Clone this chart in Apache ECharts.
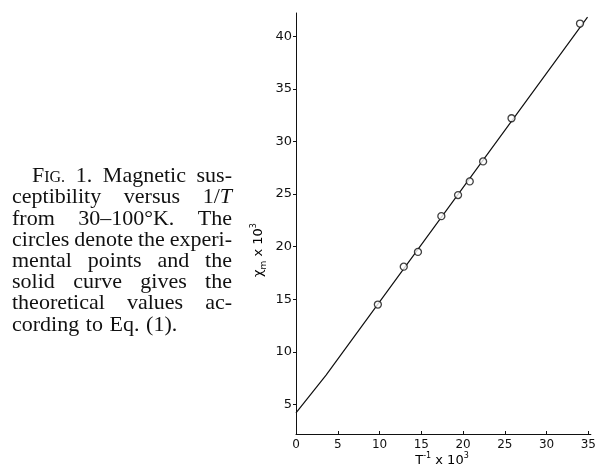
<!DOCTYPE html>
<html>
<head>
<meta charset="utf-8">
<script src="https://cdn.jsdelivr.net/npm/echarts@6/dist/echarts.min.js"></script>
<style>
html, body { margin: 0; padding: 0; background: #fff; }
#canvas { width: 599px; height: 470px; }
</style>
</head>
<body>
<div id="canvas"></div>
<script>
// measured points (circles) and the theoretical line
var pointX = [9.8, 12.9, 14.6, 17.4, 19.4, 20.8, 22.4, 25.8, 34.0];
var pointY = [14.5, 18.1, 19.5, 22.9, 24.9, 26.2, 28.1, 32.2, 41.2];
var curveX = [0, 3.6, 34.9];
var curveY = [4.2, 7.8, 41.8];

var xTicks = [0, 5, 10, 15, 20, 25, 30, 35];
var yTicks = [5, 10, 15, 20, 25, 30, 35, 40];

var captionLines = [
    'FIG. 1. Magnetic sus-',
    'ceptibility versus 1/T',
    'from 30\u2013100\u00b0K. The',
    'circles denote the experi-',
    'mental points and the',
    'solid curve gives the',
    'theoretical values ac-',
    'cording to Eq. (1).'
];

var fonts = {
    n: '22px "Liberation Serif"',
    sc: '16px "Liberation Serif"',
    it: 'italic 22px "Liberation Serif"'
};
var fontSize = { n: 22, sc: 16, it: 22 };

var mctx = document.createElement('canvas').getContext('2d');
function textWidth(txt, kind) {
    mctx.font = fonts[kind];
    return mctx.measureText(txt).width;
}
function wordParts(w) {
    if (w === 'FIG.') return [['F', 'n'], ['IG.', 'sc']];
    if (w === '1/T') return [['1/', 'n'], ['T', 'it']];
    return [[w, 'n']];
}

// justified caption, one text piece per word part
var captionGraphics = [];
captionLines.forEach(function (line, i) {
    var left = i === 0 ? 32 : 12;
    var right = 232;
    var base = 183 + i * 21.2;
    var words = line.split(' ');
    var parts = words.map(wordParts);
    var widths = parts.map(function (p) {
        return p.reduce(function (s, seg) { return s + textWidth(seg[0], seg[1]); }, 0);
    });
    var total = widths.reduce(function (a, b) { return a + b; }, 0);
    var last = i === captionLines.length - 1;
    var space = textWidth(' ', 'n');
    var gap = last ? space * 1.2 : Math.max(space * 0.8, (right - left - total) / (words.length - 1));
    var x = left;
    parts.forEach(function (p, k) {
        var px = x;
        p.forEach(function (seg) {
            captionGraphics.push({
                type: 'text',
                x: px,
                y: base - 0.3 * fontSize[seg[1]],
                style: {
                    text: seg[0],
                    font: fonts[seg[1]],
                    fill: '#111',
                    align: 'left',
                    verticalAlign: 'middle'
                }
            });
            px += textWidth(seg[0], seg[1]);
        });
        x += widths[k] + gap;
    });
});

var titleRich = {
    a: { fontFamily: 'DejaVu Sans', fontSize: 13, color: '#111', lineHeight: 18, verticalAlign: 'middle' },
    sub: { fontFamily: 'DejaVu Sans', fontSize: 9, color: '#111', lineHeight: 18, verticalAlign: 'bottom' },
    sup: { fontFamily: 'DejaVu Sans', fontSize: 8, color: '#111', lineHeight: 18, verticalAlign: 'top' }
};

var dom = document.getElementById('canvas');
var myChart = echarts.init(dom);
var option = {
    animation: false,
    backgroundColor: '#fff',
    grid: { left: 296, right: 5.5, top: 13, bottom: 36 },
    xAxis: {
        type: 'value',
        min: 0,
        max: 35.3,
        axisLine: { onZero: false, lineStyle: { color: '#111', width: 1 } },
        axisTick: { inside: true, length: 3, customValues: xTicks, lineStyle: { color: '#111' } },
        axisLabel: {
            customValues: xTicks,
            color: '#111',
            fontFamily: 'DejaVu Sans',
            fontSize: 12,
            margin: 5
        },
        splitLine: { show: false }
    },
    yAxis: {
        type: 'value',
        min: 2.2,
        max: 42.2,
        axisLine: { show: true, onZero: false, lineStyle: { color: '#111', width: 1 } },
        axisTick: { show: true, length: 3, customValues: yTicks, lineStyle: { color: '#111' } },
        axisLabel: {
            customValues: yTicks,
            color: '#111',
            fontFamily: 'DejaVu Sans',
            fontSize: 13,
            margin: 4
        },
        splitLine: { show: false }
    },
    graphic: captionGraphics.concat([
        {
            type: 'text',
            x: 259,
            y: 250,
            rotation: Math.PI / 2,
            style: {
                text: '{a|\u03c7}{sub|m}{a| x 10}{sup|3}',
                rich: titleRich,
                align: 'center',
                verticalAlign: 'middle'
            }
        },
        {
            type: 'text',
            x: 442,
            y: 461,
            style: {
                text: '{a|T}{sup|-1}{a| x 10}{sup|3}',
                rich: titleRich,
                align: 'center',
                verticalAlign: 'middle'
            }
        }
    ]),
    series: [
        {
            type: 'line',
            data: curveX.map(function (v, i) { return [v, curveY[i]]; }),
            showSymbol: false,
            symbol: 'none',
            lineStyle: { color: '#111', width: 1.2 },
            z: 2
        },
        {
            type: 'scatter',
            data: pointX.map(function (v, i) { return [v, pointY[i]]; }),
            symbol: 'circle',
            symbolSize: 7,
            itemStyle: { color: '#fff', borderColor: '#111', borderWidth: 1.3 },
            z: 3
        }
    ]
};
myChart.setOption(option, true);
</script>
</body>
</html>
